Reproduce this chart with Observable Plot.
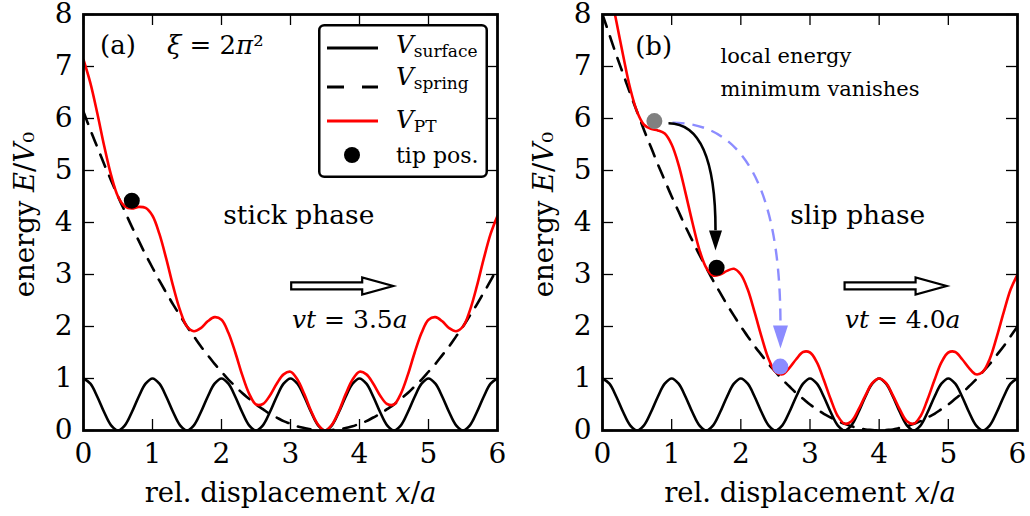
<!DOCTYPE html>
<html>
<head>
<meta charset="utf-8">
<script src="https://cdn.jsdelivr.net/npm/d3@7"></script>
<script src="https://cdn.jsdelivr.net/npm/@observablehq/plot@0.6"></script>
<style>
  html, body { margin: 0; padding: 0; background: #fff; }
  #fig { position: relative; width: 1030px; height: 516px; display: flex; }
  #fig svg { display: block; }
  #legend { position: absolute; left: 0; top: 0; pointer-events: none; }
</style>
</head>
<body>
<div id="fig"></div>
<script>
// Prandtl–Tomlinson potential: tip position x/a sampled every 0.1
const xs = [0,0.1,0.2,0.3,0.4,0.5,0.6,0.7,0.8,0.9,
  1,1.1,1.2,1.3,1.4,1.5,1.6,1.7,1.8,1.9,
  2,2.1,2.2,2.3,2.4,2.5,2.6,2.7,2.8,2.9,
  3,3.1,3.2,3.3,3.4,3.5,3.6,3.7,3.8,3.9,
  4,4.1,4.2,4.3,4.4,4.5,4.6,4.7,4.8,4.9,
  5,5.1,5.2,5.3,5.4,5.5,5.6,5.7,5.8,5.9,6];

// surface corrugation (same in both panels)
const surface = [1,0.9,0.65,0.35,0.1,0,0.1,0.35,0.65,0.9,
  1,0.9,0.65,0.35,0.1,0,0.1,0.35,0.65,0.9,
  1,0.9,0.65,0.35,0.1,0,0.1,0.35,0.65,0.9,
  1,0.9,0.65,0.35,0.1,0,0.1,0.35,0.65,0.9,
  1,0.9,0.65,0.35,0.1,0,0.1,0.35,0.65,0.9,
  1,0.9,0.65,0.35,0.1,0,0.1,0.35,0.65,0.9,1];

// panel (a): support at vt = 3.5a
const springA = [6.13,5.78,5.45,5.12,4.81,4.5,4.21,3.92,3.65,3.38,
  3.13,2.88,2.65,2.42,2.21,2.0,1.81,1.62,1.45,1.28,
  1.13,0.98,0.85,0.72,0.61,0.5,0.41,0.32,0.25,0.18,
  0.13,0.08,0.05,0.02,0.01,0,0.01,0.02,0.05,0.08,
  0.13,0.18,0.25,0.32,0.41,0.5,0.61,0.72,0.85,0.98,
  1.13,1.28,1.45,1.62,1.81,2.0,2.21,2.42,2.65,2.88,3.13];
const ptA = [7.13,6.68,6.1,5.47,4.91,4.5,4.31,4.27,4.3,4.28,
  4.13,3.78,3.3,2.77,2.31,2.0,1.91,1.97,2.1,2.18,
  2.13,1.88,1.5,1.07,0.71,0.5,0.51,0.67,0.9,1.08,
  1.13,0.98,0.7,0.37,0.11,0,0.11,0.37,0.7,0.98,
  1.13,1.08,0.9,0.67,0.51,0.5,0.71,1.07,1.5,1.88,
  2.13,2.18,2.1,1.97,1.91,2.0,2.31,2.77,3.3,3.78,4.13];

// panel (b): support at vt = 4.0a
const springB = [8,7.61,7.22,6.85,6.48,6.13,5.78,5.45,5.12,4.81,
  4.5,4.21,3.92,3.65,3.38,3.13,2.88,2.65,2.42,2.21,
  2.0,1.81,1.62,1.45,1.28,1.13,0.98,0.85,0.72,0.61,
  0.5,0.41,0.32,0.25,0.18,0.13,0.08,0.05,0.02,0.01,
  0,0.01,0.02,0.05,0.08,0.13,0.18,0.25,0.32,0.41,
  0.5,0.61,0.72,0.85,0.98,1.13,1.28,1.45,1.62,1.81,2.0];
const ptB = [9,8.51,7.87,7.2,6.58,6.13,5.88,5.8,5.77,5.71,
  5.5,5.11,4.57,4.0,3.48,3.13,2.98,3.0,3.07,3.11,
  3.0,2.71,2.27,1.8,1.38,1.13,1.08,1.2,1.37,1.51,
  1.5,1.31,0.97,0.6,0.28,0.13,0.18,0.4,0.67,0.91,
  1.0,0.91,0.67,0.4,0.18,0.13,0.28,0.6,0.97,1.31,
  1.5,1.51,1.37,1.2,1.08,1.13,1.38,1.8,2.27,2.71,3.0];

// tip positions [x, E]
const tipA = [[0.70, 4.42]];
const tipBefore = [[0.75, 5.95]];
const tipAfter = [[1.65, 3.13]];
const tipOtherMin = [[2.57, 1.23]];

const xTicks = [0, 1, 2, 3, 4, 5, 6];
const yTicks = [0, 1, 2, 3, 4, 5, 6, 7, 8];
const legendNames = ["surface", "spring", "PT", "tip pos."];

const FONT = "DejaVu Serif";
const W = 515, H = 516, MT = 14, MB = 86;
const RED = "#ff0000", BLUE = "#8c8cff", GRAY = "#808080";

// text runs that carry math italics
const RICH = {
  "rel. displacement x/a": [["rel. displacement "], ["x", "i"], ["/"], ["a", "i"]],
  "energy E/V₀": [["energy "], ["E", "i"], ["/"], ["V", "i"], ["₀"]],
  "ξ = 2π²": [["ξ", "i"], [" = 2"], ["π", "i"], ["²"]],
  "vt = 3.5a": [["vt", "i"], [" = 3.5"], ["a", "i"]],
  "vt = 4.0a": [["vt", "i"], [" = 4.0"], ["a", "i"]]
};
function richify(svg) {
  svg.querySelectorAll("text").forEach((t) => {
    const segs = RICH[t.textContent];
    if (!segs) return;
    t.textContent = "";
    for (const [s, style] of segs) {
      const ts = document.createElementNS("http://www.w3.org/2000/svg", "tspan");
      ts.textContent = s;
      if (style === "i") ts.setAttribute("font-style", "italic");
      t.appendChild(ts);
    }
  });
  // tick numbers in the same serif face as the rest of the figure
  svg.querySelectorAll('g[aria-label$="tick label"]').forEach((g) => {
    g.setAttribute("font-family", FONT);
    g.setAttribute("font-size", 28);
    g.style.fontFamily = FONT;
    g.style.fontSize = "28px";
    g.style.fontVariant = "normal";
    g.querySelectorAll("text").forEach((t) => { t.style.fontFamily = FONT; });
  });
}

// quadratic path leaving horizontally and arriving vertically
function cornerCurve(context) {
  let p = [];
  return {
    areaStart() {}, areaEnd() {},
    lineStart() { p = []; },
    point(x, y) { p.push([+x, +y]); },
    lineEnd() {
      if (p.length < 2) return;
      const [[x0, y0], [x1, y1]] = p;
      context.moveTo(x0, y0);
      context.quadraticCurveTo(x1, y0, x1, y1);
    }
  };
}
// downward filled arrowhead whose tip sits on the anchor point
const arrowHead = (w, h) => ({
  draw(ctx) { ctx.moveTo(0, 0); ctx.lineTo(-w / 2, -h); ctx.lineTo(w / 2, -h); ctx.closePath(); }
});
// hollow block arrow whose tail sits on the anchor point
const blockArrow = {
  draw(ctx) {
    ctx.moveTo(0, -3.5); ctx.lineTo(71, -3.5); ctx.lineTo(71, -8.5); ctx.lineTo(102, 0);
    ctx.lineTo(71, 8.5); ctx.lineTo(71, 3.5); ctx.lineTo(0, 3.5); ctx.closePath();
  }
};

function panel({marginLeft, marginRight, spring, pt, extra}) {
  const fw = W - marginLeft - marginRight, fh = H - MT - MB;
  const svg = Plot.plot({
    width: W, height: H, marginLeft, marginRight, marginTop: MT, marginBottom: MB,
    x: {domain: [0, 6], label: null},
    y: {domain: [0, 8], label: null},
    style: {fontFamily: FONT, fontSize: "28px", background: "white", color: "black", overflow: "visible"},
    marks: [
      Plot.tickX(xTicks, {insetTop: fh - 11, strokeWidth: 1.3}),
      Plot.tickX(xTicks, {insetBottom: fh - 11, strokeWidth: 1.3}),
      Plot.tickY(yTicks, {insetRight: fw - 11, strokeWidth: 1.3}),
      Plot.tickY(yTicks, {insetLeft: fw - 11, strokeWidth: 1.3}),
      Plot.axisX(xTicks, {tickSize: 0, tickPadding: 13, fontSize: 28, fontFamily: FONT, tickFormat: (d) => String(d), label: null}),
      Plot.axisY(yTicks, {tickSize: 0, tickPadding: 11, fontSize: 28, fontFamily: FONT, tickFormat: (d) => String(d), label: null}),
      Plot.lineY(surface, {x: xs, stroke: "black", strokeWidth: 2.6, curve: "catmull-rom", clip: true}),
      Plot.lineY(spring, {x: xs, stroke: "black", strokeWidth: 2.6, strokeDasharray: "13,10", curve: "catmull-rom", clip: true}),
      Plot.lineY(pt, {x: xs, stroke: RED, strokeWidth: 2.6, curve: "catmull-rom", clip: true}),
      ...extra,
      Plot.frame({stroke: "black", strokeWidth: 2.8}),
      Plot.text(["rel. displacement x/a"], {frameAnchor: "bottom", textAnchor: "middle", lineAnchor: "middle", dy: 63, fontSize: 27.5}),
      Plot.text(["energy E/V₀"], {frameAnchor: "left", textAnchor: "middle", lineAnchor: "middle", rotate: -90, dx: -58, dy: -8, fontSize: 27.5})
    ]
  });
  richify(svg);
  return svg;
}

const panelA = panel({
  marginLeft: 83, marginRight: 18, spring: springA, pt: ptA,
  extra: [
    Plot.dot(tipA, {x: "0", y: "1", r: 8, fill: "black"}),
    Plot.text(["(a)"], {x: [0.5], y: [7.41], fontSize: 26}),
    Plot.text(["ξ = 2π²"], {x: [1.91], y: [7.41], fontSize: 26}),
    Plot.text(["stick phase"], {x: [3.12], y: [4.14], fontSize: 26.5}),
    Plot.dot([[3.01, 2.78]], {x: "0", y: "1", symbol: blockArrow, fill: "white", stroke: "black", strokeWidth: 2.2}),
    Plot.text(["vt = 3.5a"], {x: [3.86], y: [2.12], fontSize: 25})
  ]
});

const panelB = panel({
  marginLeft: 87, marginRight: 13, spring: springB, pt: ptB,
  extra: [
    Plot.link([0], {x1: [1.012], y1: [5.92], x2: [2.573], y2: [2.02], curve: cornerCurve, stroke: BLUE, strokeWidth: 2.4, strokeDasharray: "12,8"}),
    Plot.dot([[2.573, 1.577]], {x: "0", y: "1", symbol: arrowHead(15, 23), fill: BLUE, stroke: "none"}),
    Plot.link([0], {x1: [0.954], y1: [5.91], x2: [1.634], y2: [3.85], curve: cornerCurve, stroke: "black", strokeWidth: 2.6}),
    Plot.dot([[1.634, 3.46]], {x: "0", y: "1", symbol: arrowHead(13, 20), fill: "black", stroke: "none"}),
    Plot.dot(tipBefore, {x: "0", y: "1", r: 8, fill: GRAY}),
    Plot.dot(tipAfter, {x: "0", y: "1", r: 8, fill: "black"}),
    Plot.dot(tipOtherMin, {x: "0", y: "1", r: 8, fill: BLUE}),
    Plot.text(["(b)"], {x: [0.74], y: [7.375], fontSize: 26}),
    Plot.text(["local energy"], {x: [1.706], y: [7.2], textAnchor: "start", fontSize: 21}),
    Plot.text(["minimum vanishes"], {x: [1.706], y: [6.57], textAnchor: "start", fontSize: 21}),
    Plot.text(["slip phase"], {x: [3.69], y: [4.14], fontSize: 26.5}),
    Plot.dot([[3.50, 2.78]], {x: "0", y: "1", symbol: blockArrow, fill: "white", stroke: "black", strokeWidth: 2.2}),
    Plot.text(["vt = 4.0a"], {x: [4.34], y: [2.12], fontSize: 25})
  ]
});

const fig = document.getElementById("fig");
fig.appendChild(panelA);
fig.appendChild(panelB);

// legend box in the upper right of panel (a)
const leg = d3.create("svg").attr("id", "legend").attr("width", W).attr("height", H)
  .attr("font-family", FONT);
leg.append("rect").attr("x", 319.25).attr("y", 25.25).attr("width", 167.5).attr("height", 151.5)
  .attr("rx", 5).attr("fill", "white").attr("stroke", "black").attr("stroke-width", 2.5);
const rows = [48, 87, 121, 155];
const swatch = [
  {stroke: "black", dash: null},
  {stroke: "black", dash: "17,18"},
  {stroke: RED, dash: null}
];
swatch.forEach((s, i) => {
  leg.append("line").attr("x1", 327).attr("x2", 378).attr("y1", rows[i]).attr("y2", rows[i])
    .attr("stroke", s.stroke).attr("stroke-width", 2.8).attr("stroke-dasharray", s.dash);
});
leg.append("circle").attr("cx", 352).attr("cy", rows[3]).attr("r", 8).attr("fill", "black");
const baselines = [53, 85, 128, 163];
legendNames.forEach((name, i) => {
  const t = leg.append("text").attr("x", 396).attr("y", baselines[i]).attr("font-size", 24.5);
  if (i < 3) {
    t.append("tspan").attr("font-style", "italic").text("V");
    t.append("tspan").attr("font-size", 17).attr("dy", 4).text(name);
  } else {
    t.attr("font-size", 22).text(name);
  }
});
fig.appendChild(leg.node());
</script>
</body>
</html>
